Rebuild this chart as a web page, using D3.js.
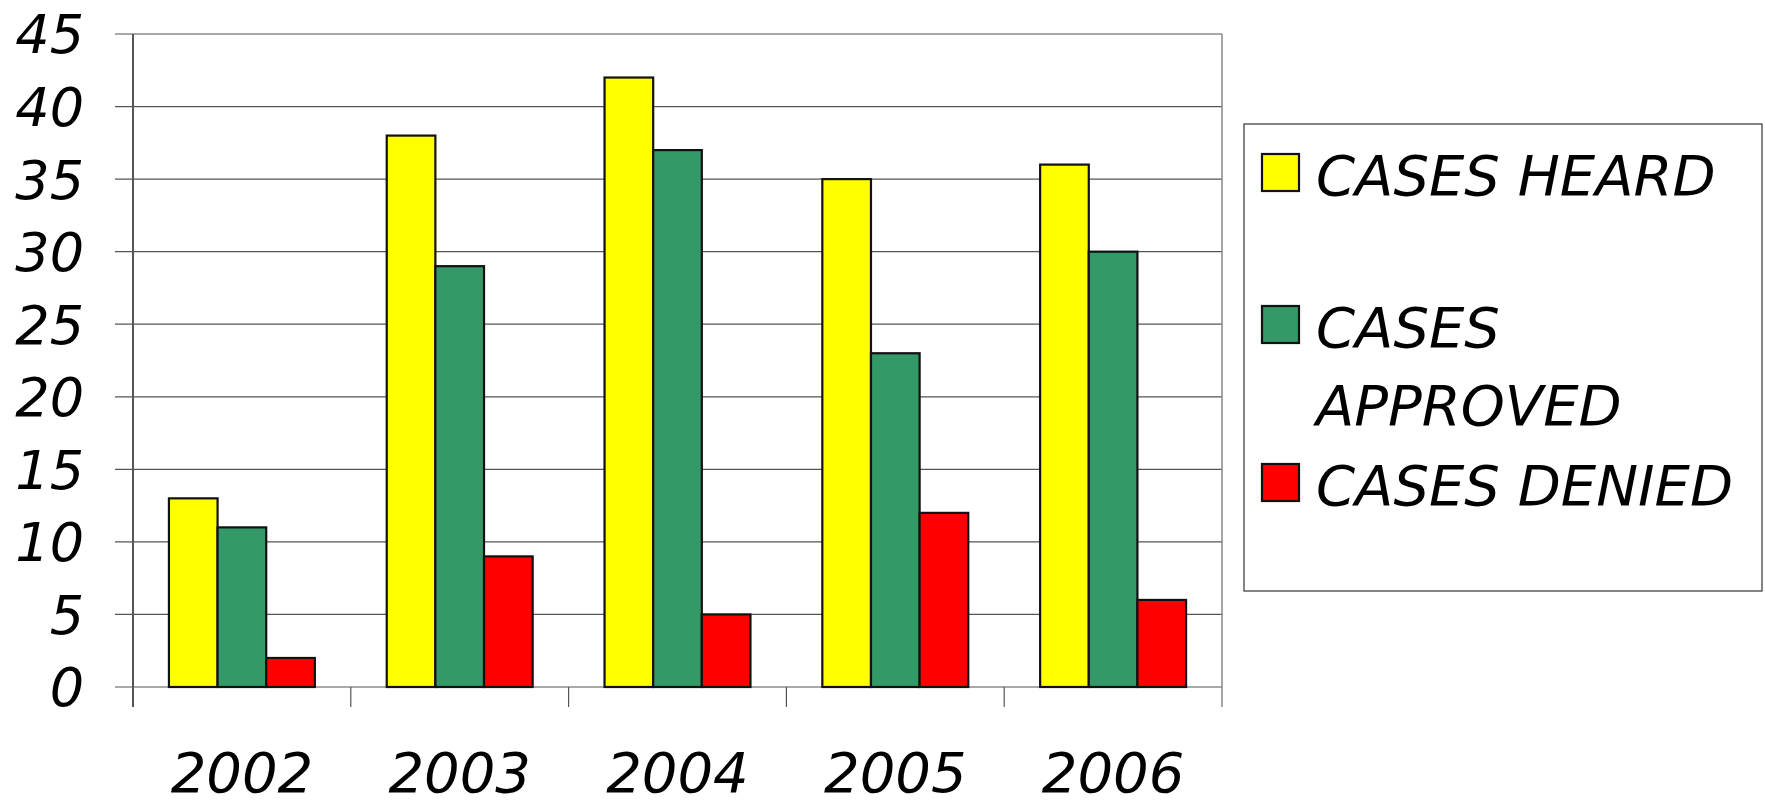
<!DOCTYPE html>
<html>
<head>
<meta charset="utf-8">
<script src="https://cdn.jsdelivr.net/npm/d3@7"></script>
<style>
body { margin: 0; background: #fff; }
text { font-family: "DejaVu Sans", sans-serif; font-style: oblique; }
</style>
</head>
<body>
<div id="chart"></div>
<script>
// data
var years = ["2002", "2003", "2004", "2005", "2006"];
var heard = [13, 38, 42, 35, 36];
var approved = [11, 29, 37, 23, 30];
var denied = [2, 9, 5, 12, 6];
var seriesNames = ["CASES HEARD", "CASES APPROVED", "CASES DENIED"];
var seriesColors = ["#ffff00", "#339966", "#ff0000"];
var yTicks = [0, 5, 10, 15, 20, 25, 30, 35, 40, 45];

var W = 1765, H = 807;
var pLeft = 133, pRight = 1222, pTop = 34, pBottom = 687;

var svg = d3.select("#chart").append("svg").attr("width", W).attr("height", H);

var x = d3.scaleBand().domain(years).range([pLeft, pRight]);
var inner = d3.scaleBand().domain(seriesNames)
    .range([x.bandwidth() * 0.165, x.bandwidth() * 0.835]);
var y = d3.scaleLinear().domain([0, 45]).range([pBottom, pTop]);

// grid lines
svg.selectAll(".grid").data(yTicks).enter().append("line")
    .attr("x1", pLeft - 18).attr("x2", pRight)
    .attr("y1", function(d){ return y(d); }).attr("y2", function(d){ return y(d); })
    .style("stroke", "#555").style("stroke-width", 1.2);
// plot frame
svg.append("line").attr("x1", pRight).attr("x2", pRight).attr("y1", pTop).attr("y2", pBottom + 20)
    .style("stroke", "#888").style("stroke-width", 1.5);
svg.append("line").attr("x1", pLeft).attr("x2", pLeft).attr("y1", pTop).attr("y2", pBottom + 20)
    .style("stroke", "#555").style("stroke-width", 2);
// category ticks
svg.selectAll(".xt").data(years.slice(1)).enter().append("line")
    .attr("x1", function(d){ return x(d); }).attr("x2", function(d){ return x(d); })
    .attr("y1", pBottom).attr("y2", pBottom + 20)
    .style("stroke", "#555").style("stroke-width", 1.2);

// y labels
svg.selectAll(".yl").data(yTicks).enter().append("text")
    .attr("x", 84).attr("y", function(d){ return y(d); })
    .attr("dy", "0.36em").attr("text-anchor", "end")
    .style("font-size", "54px").text(function(d){ return d; });

// x labels
svg.selectAll(".xl").data(years).enter().append("text")
    .attr("x", function(d){ return x(d) + x.bandwidth() / 2; }).attr("y", 792)
    .attr("text-anchor", "middle").style("font-size", "56px").text(function(d){ return d; });

// bars
var series = [heard, approved, denied];
series.forEach(function(vals, s){
    svg.selectAll(".b" + s).data(vals).enter().append("rect")
        .attr("x", function(d, i){ return x(years[i]) + inner(seriesNames[s]); })
        .attr("width", inner.bandwidth())
        .attr("y", function(d){ return y(d); })
        .attr("height", function(d){ return y(0) - y(d); })
        .style("fill", seriesColors[s]).style("stroke", "#111").style("stroke-width", 2.2);
});

// legend
svg.append("rect").attr("x", 1244).attr("y", 124).attr("width", 518).attr("height", 467)
    .style("fill", "#fff").style("stroke", "#333").style("stroke-width", 1.2);
var legY = [174, 326, 484];
var legLines = [["CASES HEARD"], ["CASES", "APPROVED"], ["CASES DENIED"]];
legY.forEach(function(cy, i){
    svg.append("rect").attr("x", 1262).attr("y", cy - 20).attr("width", 37).attr("height", 37)
        .style("fill", seriesColors[i]).style("stroke", "#111").style("stroke-width", 2.2);
    legLines[i].forEach(function(t, j){
        svg.append("text").attr("x", 1316).attr("y", cy + 21 + j * 78)
            .style("font-size", "56px").text(t);
    });
});
</script>
</body>
</html>
